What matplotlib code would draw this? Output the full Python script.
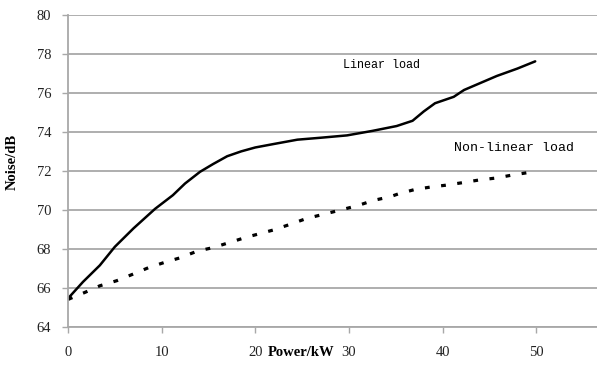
import numpy as np
import matplotlib.pyplot as plt

# linear load (solid curve)
lin_power = [0, 1.6, 3.4, 5.0, 7.0, 9.3, 11.2, 12.5, 14.1, 15.5, 17.0, 18.5, 20.0, 22.0, 24.5, 27.0,
             29.8, 32.5, 35.1, 36.8, 38.0, 39.2, 41.2, 42.3, 44.0, 45.8, 48.0, 49.9]
lin_noise = [65.45, 66.3, 67.15, 68.1, 69.05, 70.05, 70.75, 71.35, 71.95, 72.35, 72.75, 73.0, 73.2,
             73.38, 73.6, 73.7, 73.82, 74.05, 74.3, 74.57, 75.05, 75.47, 75.8, 76.15, 76.5, 76.87,
             77.25, 77.62]

# non-linear load (dashed curve)
nl_power = [0, 1.8, 3.4, 5.2, 6.9, 8.6, 10.3, 12.0, 13.8, 15.5, 17.3, 19.1, 20.2, 21.9, 23.7, 25.5,
            27.3, 29.1, 30.9, 32.6, 34.4, 35.3, 37.1, 38.9, 40.3, 42.1, 43.9, 45.7, 47.4, 49.0, 50.0]
nl_noise = [65.4, 65.76, 66.1, 66.36, 66.69, 67.03, 67.3, 67.54, 67.88, 68.06, 68.33, 68.6, 68.74,
            68.96, 69.25, 69.56, 69.77, 69.99, 70.21, 70.48, 70.67, 70.82, 71.05, 71.18, 71.26, 71.39,
            71.53, 71.63, 71.78, 71.9, 71.95]

grid_col = '#a8a8a8'

fig = plt.figure(figsize=(5.97, 3.70), dpi=100)
ax = fig.add_axes([0.1139, 0.117, 0.8861, 0.8425])

ax.plot(lin_power, lin_noise, color='black', lw=1.8, solid_capstyle='round', solid_joinstyle='round')
ax.plot(nl_power, nl_noise, color='black', lw=2.3, linestyle=(0, (1.5, 3.6)), dash_capstyle='butt')

ax.set_xlim(0, 56.5)
ax.set_ylim(64, 80)
ax.set_xticks([0, 10, 20, 30, 40, 50])
ax.set_yticks(np.arange(64, 81, 2))
ax.yaxis.grid(True, color=grid_col, lw=1.3)
ax.set_axisbelow(True)

for s in ['top', 'right']:
    ax.spines[s].set_visible(False)
for s in ['left', 'bottom']:
    ax.spines[s].set_color(grid_col)
    ax.spines[s].set_linewidth(1.3)

ax.tick_params(axis='both', colors=grid_col, length=4, width=1.0, labelcolor='#222222',
               labelsize=10.5)
ax.tick_params(axis='x', pad=10)
ax.tick_params(axis='y', pad=8)
for lab in ax.get_xticklabels() + ax.get_yticklabels():
    lab.set_family('Liberation Serif')

fig.text(343 / 597, 1 - 65 / 370, 'Linear load', fontsize=8.5, family='Liberation Mono',
         va='center', ha='left')
fig.text(514 / 597, 1 - 148 / 370, 'Non-linear load', fontsize=9.5, family='Liberation Mono',
         va='center', ha='center')

fig.text(12 / 597, 1 - 162 / 370, 'Noise/dB', rotation=90, fontsize=10.5, fontweight='bold',
         family='Liberation Serif', va='center', ha='center')
fig.text(301 / 597, 1 - 353 / 370, 'Power/kW', fontsize=10.5, fontweight='bold',
         family='Liberation Serif', va='center', ha='center')

fig.savefig('out.png', dpi=100)
